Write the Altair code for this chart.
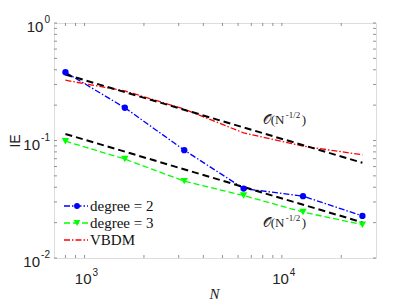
import altair as alt
import pandas as pd

# ---- data ----
N = [800, 1600, 3200, 6400, 12800, 25600]
deg2 = [0.381, 0.19, 0.0828, 0.0390, 0.0336, 0.0228]
deg3 = [0.0987, 0.0695, 0.0451, 0.0340, 0.0246, 0.0192]
vbdm = [0.326, 0.264, 0.185, 0.116, 0.0895, 0.0756]
ref_N = [800, 25600]
ref_hi = [0.365, 0.0646]
ref_lo = [0.1137, 0.0201]
series_names = ["degree = 2", "degree = 3", "VBDM"]
x_major = [1000, 10000]
x_major_exp = ["3", "4"]
x_minor = [800, 900, 2000, 3000, 4000, 5000, 6000, 7000, 8000, 9000, 20000]
y_major = [1, 0.1, 0.01]
y_major_exp = ["0", "-1", "-2"]
y_minor = [0.02, 0.03, 0.04, 0.05, 0.06, 0.07, 0.08, 0.09,
           0.2, 0.3, 0.4, 0.5, 0.6, 0.7, 0.8, 0.9]
annot_N = [8000, 8000]
annot_y = [0.149, 0.0199]

W, H = 322, 235
SERIF = "Liberation Serif"
SANS = "Liberation Sans"
TXT = "#222"

xs = alt.Scale(type="log", domain=[700, 30000])
ys = alt.Scale(type="log", domain=[0.01, 1])

x_axis = alt.Axis(values=x_major, ticks=False, grid=False, domain=False, labels=False,
                  titleFont=SERIF, titleFontStyle="italic", titleFontWeight="normal",
                  titleFontSize=15, titleX=160, titleY=35, titleBaseline="middle",
                  titleColor=TXT)
y_axis = alt.Axis(values=y_major, ticks=False, grid=False, domain=False, labels=False,
                  titleFont=SANS, titleFontWeight="normal", titleFontSize=14,
                  titleX=-39, titleY=H / 2, titleAngle=270, titleAlign="center",
                  titleBaseline="middle", titleColor=TXT)

def X(field):
    return alt.X(f"{field}:Q", scale=xs, title="N", axis=x_axis)

def Y(field):
    return alt.Y(f"{field}:Q", scale=ys, title="IE", axis=y_axis)

def line_layer(vals, color, dash, width=1.3, n=N):
    df = pd.DataFrame({"N": n, "v": vals})
    return alt.Chart(df).mark_line(color=color, strokeDash=dash, strokeWidth=width).encode(
        x=X("N"), y=Y("v"))

def point_layer(vals, color, shape, size):
    df = pd.DataFrame({"N": N, "v": vals})
    return alt.Chart(df).mark_point(color=color, fill=color, filled=True, shape=shape,
                                    size=size, opacity=1).encode(x=X("N"), y=Y("v"))

# inward ticks
TL = 3
def xticks(vals):
    df = pd.DataFrame({"N": vals})
    b = alt.Chart(df).mark_rule(color="#777", strokeWidth=0.8)
    return (b.encode(x=X("N"), y=alt.value(H), y2=alt.value(H - TL)) +
            b.encode(x=X("N"), y=alt.value(0), y2=alt.value(TL)))

def yticks(vals):
    df = pd.DataFrame({"v": vals})
    b = alt.Chart(df).mark_rule(color="#777", strokeWidth=0.8)
    return (b.encode(y=Y("v"), x=alt.value(0), x2=alt.value(TL)) +
            b.encode(y=Y("v"), x=alt.value(W), x2=alt.value(W - TL)))

ticks = xticks(x_major + x_minor) + yticks(y_major + y_minor)

# tick labels 10^k (base + raised exponent)
xl_df = pd.DataFrame({"N": x_major, "e": x_major_exp})
xl = (alt.Chart(xl_df).mark_text(text="10", font=SANS, fontSize=15, align="right",
                                 baseline="middle", dx=7, color=TXT)
      .encode(x=X("N"), y=alt.value(H + 21)) +
      alt.Chart(xl_df).mark_text(font=SANS, fontSize=10, align="left",
                                 baseline="middle", dx=8, color=TXT)
      .encode(x=X("N"), y=alt.value(H + 15), text="e:N"))

yl = None
for val, ex in zip(y_major, y_major_exp):
    d = pd.DataFrame({"v": [val], "e": [ex]})
    ew = 5.6 * len(ex) - (2.2 if ex.startswith("-") else 0)
    lay = (alt.Chart(d).mark_text(font=SANS, fontSize=10, align="right",
                                  baseline="middle", dy=-3, color=TXT)
           .encode(y=Y("v"), x=alt.value(-4), text="e:N") +
           alt.Chart(d).mark_text(text="10", font=SANS, fontSize=15, align="right",
                                  baseline="middle", dy=4, color=TXT)
           .encode(y=Y("v"), x=alt.value(-5 - ew)))
    yl = lay if yl is None else yl + lay

blue, green, red = "#0000ff", "#00ff00", "#ff0000"
dashdot = [6, 2, 1.5, 2]
dashed = [6, 3]

lines = (line_layer(deg2, blue, dashdot) +
         line_layer(deg3, green, dashed) +
         line_layer(vbdm, red, dashdot) +
         line_layer(ref_hi, "black", [7, 4], 2, ref_N) +
         line_layer(ref_lo, "black", [7, 4], 2, ref_N))
pts = point_layer(deg2, blue, "circle", 40) + point_layer(deg3, green, "triangle-down", 55)

# annotations O(N^{-1/2})
ann_df = pd.DataFrame({"N": annot_N, "v": annot_y})
ann_base = alt.Chart(ann_df).encode(x=X("N"), y=Y("v"))
ann = (ann_base.mark_text(text="𝒪(N", font=SERIF, fontSize=13, align="left",
                          baseline="middle", color=TXT) +
       ann_base.mark_text(text="-1/2", font=SERIF, fontSize=9, align="left",
                          baseline="middle", dx=23, dy=-5, color=TXT) +
       ann_base.mark_text(text=")", font=SERIF, fontSize=13, align="left",
                          baseline="middle", dx=39, color=TXT))

# legend (manual)
leg_rows = [183, 200, 217]
leg_style = [(blue, dashdot, "circle", 35), (green, dashed, "triangle-down", 45),
             (red, dashdot, None, 0)]
one = pd.DataFrame({"a": [0]})
legend = None
for name, row, (c, d, s, sz) in zip(series_names, leg_rows, leg_style):
    lay = alt.Chart(one).mark_rule(color=c, strokeDash=d, strokeWidth=1.3).encode(
        x=alt.value(10), x2=alt.value(34), y=alt.value(row))
    if s:
        lay = lay + alt.Chart(one).mark_point(color=c, fill=c, filled=True, shape=s, size=sz,
                                             opacity=1).encode(x=alt.value(23), y=alt.value(row))
    lay = lay + alt.Chart(one).mark_text(text=name, font=SERIF, fontSize=15, align="left",
                                        baseline="middle", color="#111").encode(
        x=alt.value(36), y=alt.value(row))
    legend = lay if legend is None else legend + lay

chart = alt.layer(ticks, lines, pts, ann, legend, xl, yl).properties(
    width=W, height=H,
    autosize=alt.AutoSizeParams(type="none"),
    padding={"left": 46, "top": 15, "right": 20, "bottom": 45},
).configure_view(stroke="#888", strokeWidth=1).configure(background="white")

chart.save("out.html", embed_options={"renderer": "svg", "actions": False})
